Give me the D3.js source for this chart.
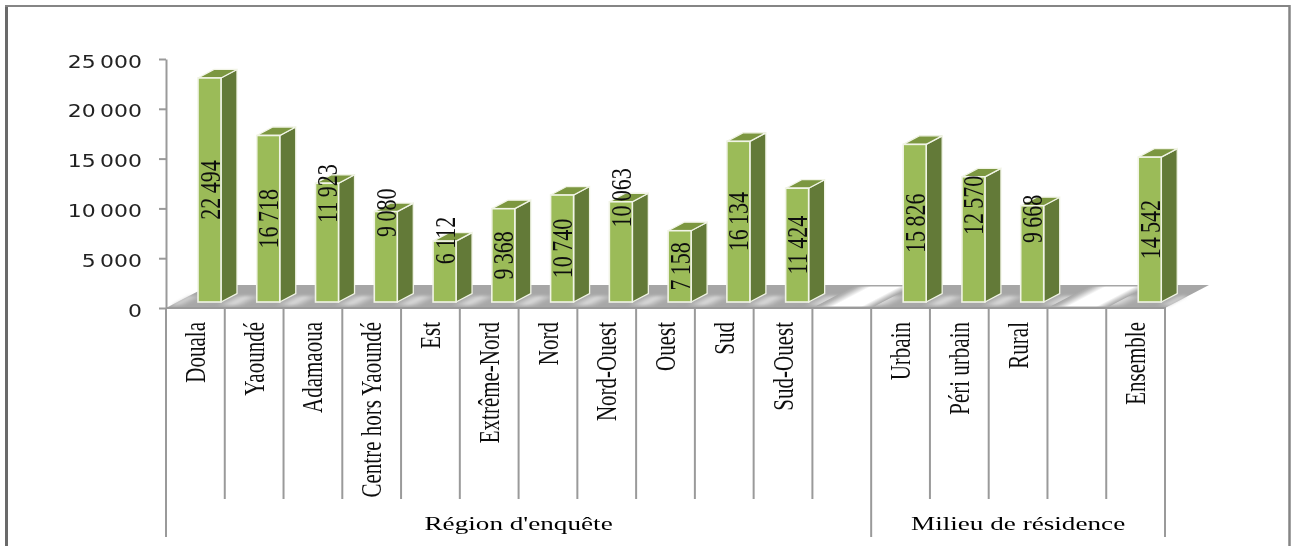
<!DOCTYPE html>
<html><head><meta charset="utf-8">
<script src="https://cdnjs.cloudflare.com/ajax/libs/d3/7.8.5/d3.min.js"></script>
<style>html,body{margin:0;padding:0;background:#fff;overflow:hidden}svg{display:block}</style>
</head><body><svg id="c" width="1294" height="546"></svg>
<script>
const categories = ["Douala","Yaoundé","Adamaoua","Centre hors Yaoundé","Est","Extrême-Nord","Nord","Nord-Ouest","Ouest","Sud","Sud-Ouest","","Urbain","Péri urbain","Rural","","Ensemble"];
const values = [22494,16718,11923,9080,6112,9368,10740,10063,7158,16134,11424,null,15826,12570,9668,null,14542];
const groupNames = ["Région d'enquête","Milieu de résidence"];
const groupSpans = [[0,12],[12,17]];
const tickValues = [0,5000,10000,15000,20000,25000];

// Labels the source moved up by hand, above the middle of their bar (px)
const labelLift = {2:49,3:44,4:31,7:54,13:34,14:35};

const W=1294,H=546;
const left=166,right=1165,axisBase=308,axisTop=59,barBase=302;
const barOffset=32,barW=23,depthX=16,depthY=8.5;
const floorDX=44,floorDY=23;
const catBottom=499,groupBottom=537;
const grey="#9a9a9a";

const fmt=d3.formatLocale({decimal:",",thousands:"\u2009",grouping:[3],currency:["",""]}).format(",d");
const slots=d3.range(categories.length);
const x=d3.scaleBand().domain(slots).range([left,right]).padding(0);
const yAxis=d3.scaleLinear().domain([0,25000]).range([axisBase,axisTop]);
const yBar=d3.scaleLinear().domain([0,25000]).range([barBase,barBase-(axisBase-axisTop)]);

const svg=d3.select("#c");
const defs=svg.append("defs");
const blur=defs.append("filter").attr("id","soft").attr("x",0).attr("y",0).attr("width",1).attr("height",1);
blur.append("feGaussianBlur").attr("stdDeviation",0.45);
const blur2=defs.append("filter").attr("id","soft2").attr("x","-2%").attr("y","-30%").attr("width","104%").attr("height","160%");
blur2.append("feGaussianBlur").attr("stdDeviation",1.4);

// gradient whose iso-lines follow the slanted floor divisions, one period per slot
const bw=x.bandwidth(), nl=Math.hypot(floorDX,floorDY);
const tLen=bw*floorDY/nl, gx=tLen*floorDY/nl, gy=tLen*floorDX/nl;
function slantGrad(id,stops){
  const g=defs.append("linearGradient").attr("id",id).attr("gradientUnits","userSpaceOnUse")
    .attr("x1",left).attr("y1",axisBase).attr("x2",left+gx).attr("y2",axisBase+gy).attr("spreadMethod","repeat");
  stops.forEach(s=>g.append("stop").attr("offset",s[0]).attr("stop-color",s[1]));
}
slantGrad("sheen",[[0,"#dcdcdc"],[.25,"#a8a8a8"],[.75,"#a6a6a6"],[1,"#dcdcdc"]]);
slantGrad("gap",[[0,"#a6a6a6"],[.08,"#b4b4b4"],[.3,"#ffffff"],[.78,"#ffffff"],[.92,"#c4c4c4"],[1,"#a6a6a6"]]);

const root=svg.append("g").attr("filter","url(#soft)");
root.append("rect").attr("width",W).attr("height",H).attr("fill","#fff");

// outer frame
root.append("line").attr("x1",6.5).attr("x2",6.5).attr("y1",5).attr("y2",H).attr("stroke","#6a6a6a").attr("stroke-width",3);
root.append("line").attr("x1",5).attr("x2",1290).attr("y1",6).attr("y2",6).attr("stroke","#858585").attr("stroke-width",2);
root.append("line").attr("x1",1289.5).attr("x2",1289.5).attr("y1",5).attr("y2",H).attr("stroke","#858585").attr("stroke-width",2.5);

// floor
const para=(a,b,y0,y1)=>{
  const s=v=>(axisBase-v)/floorDY*floorDX;
  return `M${a+s(y0)},${y0}L${b+s(y0)},${y0}L${b+s(y1)},${y1}L${a+s(y1)},${y1}Z`;
};
root.append("path").attr("d",para(left,right,axisBase,axisBase-floorDY)).attr("fill","#a6a6a6");
root.append("path").attr("d",para(left,right,axisBase-2.5,axisBase-12)).attr("fill","url(#sheen)").attr("filter","url(#soft2)");
root.selectAll("path.gap").data(slots.filter(i=>values[i]===null)).join("path").attr("class","gap")
  .attr("d",i=>para(x(i),x(i)+bw,axisBase-1.5,axisBase-floorDY+1.5)).attr("fill","url(#gap)");

// category divisions
const cats=root.append("g");
cats.selectAll("line").data(d3.range(categories.length+1)).join("line")
  .attr("x1",i=>left+i*bw).attr("x2",i=>left+i*bw).attr("y1",axisBase)
  .attr("y2",i=>(i===0||i===12||i===17)?groupBottom:catBottom)
  .attr("stroke",grey).attr("stroke-width",2);

// value axis
const ax=root.append("g").attr("transform",`translate(${left},0)`)
  .call(d3.axisLeft(yAxis).tickValues(tickValues).tickSize(7).tickSizeOuter(0).tickPadding(0).tickFormat(fmt));
ax.select(".domain").attr("stroke",grey).attr("stroke-width",2);
ax.selectAll(".tick line").attr("stroke",grey).attr("stroke-width",2);
ax.selectAll(".tick text").attr("x",null).attr("dy",null).attr("y",null)
  .attr("font-family","'DejaVu Sans'").attr("font-size",18).attr("fill","#222")
  .attr("text-anchor","end")
  .attr("transform","translate(-24,8) scale(1.22,1)");
root.append("line").attr("x1",left).attr("x2",right+1).attr("y1",axisBase).attr("y2",axisBase).attr("stroke",grey).attr("stroke-width",2);

// bars
const bars=root.append("g").selectAll("g").data(slots.filter(i=>values[i]!==null)).join("g");
const edge="#f1f4e6";
bars.append("path").attr("fill","#637a38").attr("stroke",edge).attr("stroke-width",1.3)
  .attr("d",i=>{const a=x(i)+barOffset+barW,t=yBar(values[i]);
    return `M${a},${t}L${a+depthX},${t-depthY}L${a+depthX},${barBase-depthY}L${a},${barBase}Z`;});
bars.append("path").attr("fill","#7b973f").attr("stroke",edge).attr("stroke-width",1.3)
  .attr("d",i=>{const a=x(i)+barOffset,t=yBar(values[i]);
    return `M${a},${t}L${a+barW},${t}L${a+barW+depthX},${t-depthY}L${a+depthX},${t-depthY}Z`;});
bars.append("rect").attr("fill","#9bbb59").attr("stroke",edge).attr("stroke-width",1.6)
  .attr("x",i=>x(i)+barOffset).attr("width",barW)
  .attr("y",i=>yBar(values[i])).attr("height",i=>barBase-yBar(values[i]));

// value labels
root.append("g").selectAll("text").data(slots.filter(i=>values[i]!==null)).join("text")
  .attr("transform",i=>{
    const cy=(yBar(values[i])+barBase)/2-(labelLift[i]||0);
    return `translate(${x(i)+barOffset+barW/2},${cy}) rotate(-90) scale(1,1.38)`;})
  .attr("text-anchor","middle").attr("dy","0.33em")
  .attr("font-family","'Liberation Serif'").attr("font-size",22).attr("fill","#111")
  .text(i=>fmt(values[i]));

// category labels
root.append("g").selectAll("text").data(slots.filter(i=>categories[i])).join("text")
  .attr("transform",i=>`translate(${x(i)+bw/2},322) rotate(-90) scale(1,1.38)`)
  .attr("text-anchor","end").attr("dy","0.33em")
  .attr("font-family","'Liberation Serif'").attr("font-size",21).attr("fill","#111")
  .text(i=>categories[i]);

// group labels
root.append("g").selectAll("text").data(groupNames).join("text")
  .attr("transform",(d,k)=>`translate(${(x(groupSpans[k][0])+x(groupSpans[k][1]-1)+bw)/2},530) scale(1.43,1)`)
  .attr("text-anchor","middle").attr("font-family","'Liberation Serif'").attr("font-size",19).attr("fill","#000")
  .text(d=>d);
</script></body></html>
